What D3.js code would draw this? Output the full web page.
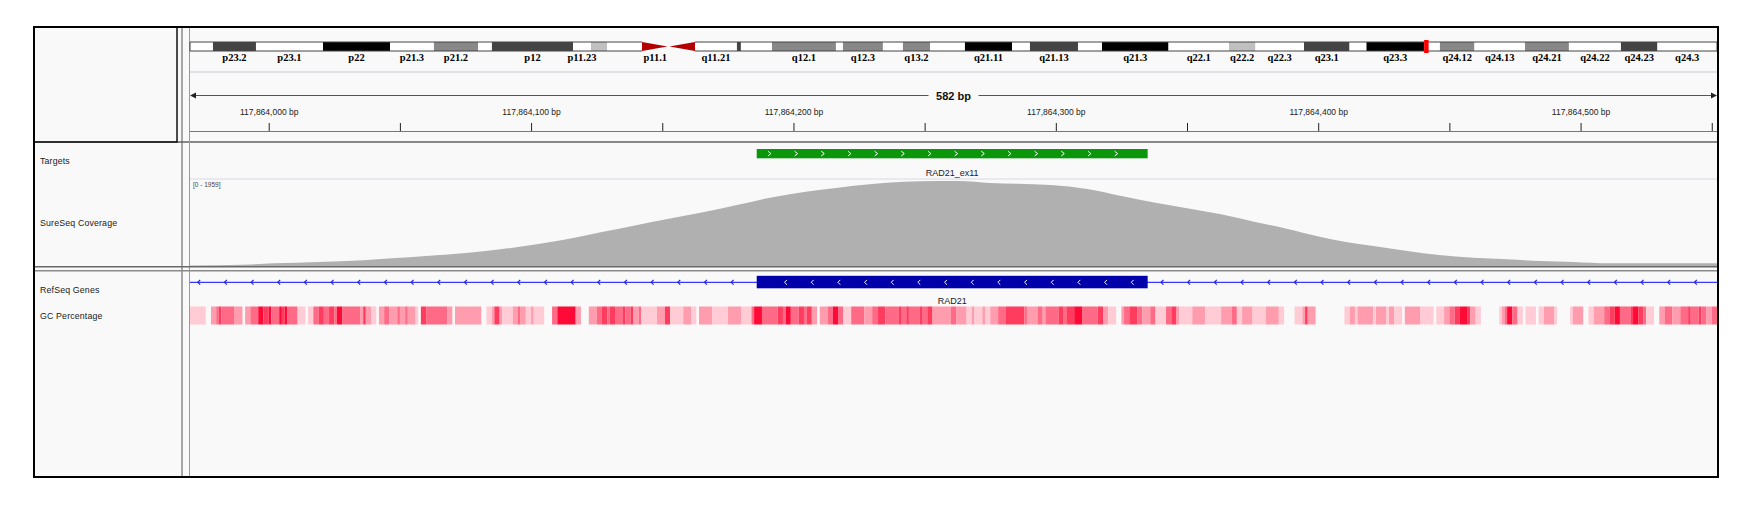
<!DOCTYPE html>
<head>
    <meta charset="utf-8">
    <script src="https://d3js.org/d3.v7.min.js"></script>
    <style>
        body { margin: 0; background: #fff; }
        text { font-family: "Liberation Sans", Arial, sans-serif; }
    </style>
</head>

<body>
    <svg width="1752" height="510"></svg>

    <script>
        // ---- view ----
        const viewStart = 117863970
        const viewEnd = 117864552
        const chromLengthMb = 145.6
        const currentMb = 117.864

        // ---- chr8 ideogram (Mb) ----
        const bandNames = ["p23.3", "p23.2", "p23.1", "p22", "p21.3", "p21.2", "p21.1", "p12", "p11.23", "p11.22",
            "p11.21", "p11.1", "q11.1", "q11.21", "q11.22", "q11.23", "q12.1", "q12.2", "q12.3", "q13.1",
            "q13.2", "q13.3", "q21.11", "q21.12", "q21.13", "q21.2", "q21.3", "q22.1", "q22.2", "q22.3",
            "q23.1", "q23.2", "q23.3", "q24.11", "q24.12", "q24.13", "q24.21", "q24.22", "q24.23", "q24.3"]
        const bandStart = [0, 2.19, 6.29, 12.68, 19.07, 23.26, 27.46, 28.79, 36.52, 38.23,
            39.76, 43.10, 45.62, 48.15, 52.15, 52.53, 55.49, 61.59, 62.26, 66.07,
            67.98, 70.56, 73.89, 78.38, 80.09, 84.67, 86.96, 93.30, 99.07, 101.59,
            106.22, 110.56, 112.18, 117.66, 119.18, 122.47, 127.29, 131.48, 136.44, 139.92]
        const bandEnd = [2.19, 6.29, 12.68, 19.07, 23.26, 27.46, 28.79, 36.52, 38.23, 39.76,
            43.10, 45.62, 48.15, 52.15, 52.53, 55.49, 61.59, 62.26, 66.07, 67.98,
            70.56, 73.89, 78.38, 80.09, 84.67, 86.96, 93.30, 99.07, 101.59, 106.22,
            110.56, 112.18, 117.66, 119.18, 122.47, 127.29, 131.48, 136.44, 139.92, 145.6]
        const bandStain = ["gneg", "gpos75", "gneg", "gpos100", "gneg", "gpos50", "gneg", "gpos75", "gneg", "gpos25",
            "gneg", "acen", "acen", "gneg", "gpos75", "gneg", "gpos50", "gneg", "gpos50", "gneg",
            "gpos50", "gneg", "gpos100", "gneg", "gpos75", "gneg", "gpos100", "gneg", "gpos25", "gneg",
            "gpos75", "gneg", "gpos100", "gneg", "gpos50", "gneg", "gpos50", "gneg", "gpos75", "gneg"]
        const shownLabels = ["p23.2", "p23.1", "p22", "p21.3", "p21.2", "p12", "p11.23", "p11.1", "q11.21",
            "q12.1", "q12.3", "q13.2", "q21.11", "q21.13", "q21.3", "q22.1", "q22.2", "q22.3", "q23.1",
            "q23.3", "q24.12", "q24.13", "q24.21", "q24.22", "q24.23", "q24.3"]

        // ---- ruler ----
        const tickValues = [117864000, 117864050, 117864100, 117864150, 117864200, 117864250,
            117864300, 117864350, 117864400, 117864450, 117864500, 117864550]
        const labelEvery = 100

        // ---- features ----
        const targetName = "RAD21_ex11"
        const targetStart = 117864186, targetEnd = 117864335
        const geneName = "RAD21"
        const exonStart = 117864186, exonEnd = 117864335

        // ---- coverage (offset from viewStart, depth) ----
        const covMax = 1959
        const covOffsets = [0, 20, 32, 49, 66, 77, 90, 104, 116, 125, 134, 142, 147, 157, 170, 183, 196, 208, 221, 234,
            247, 259, 272, 285, 293, 305, 328, 342, 355, 368, 380, 393, 406, 418, 431, 440, 451, 464, 476, 489,
            502, 515, 527, 541, 582]
        const covValues = [9, 29, 61, 91, 129, 174, 226, 290, 360, 430, 510, 590, 645, 770, 925, 1075, 1223, 1375, 1547, 1676,
            1773, 1850, 1909, 1925, 1925, 1880, 1835, 1744, 1586, 1434, 1307, 1171, 997, 845, 657, 550, 453, 340, 249, 188,
            152, 113, 91, 61, 61]

        // ---- GC percentage: [start offset, end offset, gc %] ----
        const gcBins = [
            [0, 6, 40], [8, 10, 50], [10, 11, 60], [11, 12, 70], [12, 17, 60], [17, 20, 50],
            [21, 23, 50], [23, 26, 60], [26, 28, 80], [28, 30, 70], [30, 31, 80], [31, 34, 60], [34, 35, 80], [35, 36, 70], [36, 37, 80], [37, 41, 60], [41, 44, 40],
            [45, 47, 40], [47, 49, 60], [49, 51, 70], [51, 53, 60], [53, 55, 70], [55, 56, 60], [56, 58, 80], [58, 65, 60], [65, 66, 50], [66, 67, 70], [67, 69, 50], [69, 71, 40],
            [72, 74, 50], [74, 76, 60], [76, 79, 50], [79, 80, 60], [80, 82, 50], [82, 83, 60], [83, 86, 50], [86, 87, 40],
            [88, 90, 70], [90, 98, 60], [98, 100, 50], [101, 111, 50],
            [113, 115, 40], [115, 116, 50], [116, 118, 70], [118, 119, 50], [119, 123, 40], [123, 125, 50], [125, 126, 60], [126, 128, 50], [128, 130, 40], [130, 131, 50], [131, 135, 40],
            [138, 140, 60], [140, 147, 80], [147, 149, 50],
            [152, 155, 50], [155, 157, 60], [157, 159, 70], [159, 160, 60], [160, 162, 70], [162, 165, 60], [165, 166, 70], [166, 168, 60], [168, 169, 70], [169, 171, 50], [171, 172, 60], [172, 178, 40], [178, 181, 50], [181, 183, 70], [183, 188, 40], [188, 191, 50], [191, 193, 40],
            [194, 199, 50], [199, 205, 40], [205, 210, 50], [210, 214, 40], [214, 215, 60], [215, 218, 80], [218, 224, 60], [224, 226, 70], [226, 227, 60], [227, 229, 80], [229, 232, 60], [232, 234, 70], [234, 235, 60], [235, 237, 70], [237, 239, 50],
            [240, 243, 50], [243, 245, 60], [245, 247, 80], [247, 249, 60], [249, 252, 40], [252, 257, 60], [257, 260, 50], [260, 262, 60], [262, 265, 70], [265, 270, 60], [270, 271, 70], [271, 273, 60], [273, 274, 70], [274, 278, 60], [278, 279, 70], [279, 281, 60], [281, 283, 70], [283, 290, 50], [290, 292, 60],
            [292, 296, 50], [296, 298, 40], [298, 299, 50], [299, 302, 40], [302, 303, 50], [303, 305, 40], [305, 308, 50], [308, 311, 60], [311, 318, 70], [318, 319, 60], [319, 323, 50], [323, 325, 60], [325, 326, 50], [326, 331, 60], [331, 333, 70], [333, 334, 60], [334, 337, 70], [337, 340, 80], [340, 346, 60], [346, 348, 70], [348, 350, 50], [350, 353, 40],
            [355, 356, 50], [356, 358, 60], [358, 361, 70], [361, 363, 60], [363, 366, 50], [366, 368, 60], [368, 372, 40], [372, 374, 60], [374, 376, 70], [376, 377, 50], [377, 382, 40], [382, 387, 50], [387, 393, 40], [393, 397, 50], [397, 399, 60], [399, 401, 40], [401, 405, 50], [405, 410, 40], [410, 415, 50], [415, 417, 40],
            [421, 424, 40], [424, 425, 50], [425, 426, 70], [426, 429, 50],
            [440, 442, 40], [442, 444, 50], [444, 445, 40], [445, 451, 50], [451, 452, 40], [452, 456, 50], [456, 457, 40], [457, 459, 50], [459, 462, 40],
            [463, 469, 50], [469, 474, 40],
            [475, 478, 40], [478, 480, 50], [480, 482, 60], [482, 484, 70], [484, 487, 80], [487, 488, 70], [488, 490, 50], [490, 492, 40],
            [499, 500, 40], [500, 501, 50], [501, 502, 60], [502, 504, 80], [504, 506, 60], [506, 508, 40],
            [509, 513, 40], [514, 516, 40], [516, 520, 50], [520, 521, 40],
            [526, 527, 40], [527, 531, 50],
            [533, 535, 40], [535, 539, 50], [539, 541, 60], [541, 543, 70], [543, 545, 80], [545, 549, 60], [549, 550, 70], [550, 552, 80], [552, 554, 70], [554, 555, 60], [555, 558, 40],
            [560, 562, 50], [562, 565, 60], [565, 568, 50], [568, 571, 60], [571, 572, 70], [572, 575, 60], [575, 576, 70], [576, 578, 60], [578, 580, 50], [580, 582, 60]
        ]

        const trackNames = ["Targets", "SureSeq Coverage", "RefSeq Genes", "GC Percentage"]
        const trackNameY = [164, 226, 293, 319]

        // ---- layout ----
        const L = 34, T = 27, R = 1718, B = 477
        const dataL = 190, dataR = 1717
        const svg = d3.select("svg")

        const x = d3.scaleLinear().domain([viewStart, viewEnd]).range([dataL, dataR])
        const xMb = d3.scaleLinear().domain([0, chromLengthMb]).range([dataL, dataR])
        const yCov = d3.scaleLinear().domain([0, covMax]).range([266, 179.5])
        const gcColor = d3.scaleLinear().domain([40, 80]).range(["#ffccd6", "#ff0a36"]).clamp(true)
        const stainColor = { gneg: "#ffffff", gpos25: "#c0c0c0", gpos50: "#888888", gpos75: "#444444", gpos100: "#000000" }

        // frame and panels
        svg.append("rect").attr("x", L).attr("y", T).attr("width", R - L).attr("height", B - T)
            .attr("fill", "#f9f9f9")
        svg.append("line").attr("x1", L).attr("x2", R).attr("y1", 142).attr("y2", 142)
            .attr("stroke", "#888").attr("stroke-width", 2)
        svg.append("rect").attr("x", L).attr("y", T).attr("width", 177 - L).attr("height", 142 - T)
            .attr("fill", "none").attr("stroke", "#111").attr("stroke-width", 1.5)
        svg.append("line").attr("x1", 182).attr("x2", 182).attr("y1", T).attr("y2", B)
            .attr("stroke", "#555").attr("stroke-width", 1)
        svg.append("line").attr("x1", 189.5).attr("x2", 189.5).attr("y1", T).attr("y2", B)
            .attr("stroke", "#999").attr("stroke-width", 1)
        svg.append("line").attr("x1", L).attr("x2", R).attr("y1", 266.8).attr("y2", 266.8)
            .attr("stroke", "#6a6a6a").attr("stroke-width", 1.5)
        svg.append("line").attr("x1", L).attr("x2", R).attr("y1", 270.8).attr("y2", 270.8)
            .attr("stroke", "#8a8a8a").attr("stroke-width", 1.5)

        // ---- ideogram ----
        const bands = bandNames.map((n, i) => ({ name: n, s: bandStart[i], e: bandEnd[i], stain: bandStain[i] }))
        const ideoTop = 42, ideoH = 9
        const ideo = svg.append("g")
        ideo.selectAll("rect.band")
            .data(bands.filter(d => d.stain != "acen"))
            .enter()
            .append("rect")
            .attr("x", d => xMb(d.s))
            .attr("y", ideoTop)
            .attr("width", d => xMb(d.e) - xMb(d.s))
            .attr("height", ideoH)
            .attr("fill", d => stainColor[d.stain])
        ideo.selectAll("path.acen")
            .data(bands.filter(d => d.stain == "acen"))
            .enter()
            .append("path")
            .attr("fill", "#b40000")
            .attr("d", d => {
                const a = xMb(d.s), b = xMb(d.e), m = ideoTop + ideoH / 2
                return d.name[0] == "p"
                    ? `M${a},${ideoTop}L${b - 1},${m}L${a},${ideoTop + ideoH}Z`
                    : `M${b},${ideoTop}L${a + 1},${m}L${b},${ideoTop + ideoH}Z`
            })
        const pEnd = bands.find(d => d.name == "p11.1").s
        const qStart = bands.find(d => d.name == "q11.1").e
        ideo.append("path")
            .attr("fill", "none").attr("stroke", "#444").attr("stroke-width", 1)
            .attr("d", `M${xMb(pEnd)},${ideoTop}H${xMb(0)}V${ideoTop + ideoH}H${xMb(pEnd)}` +
                `M${xMb(qStart)},${ideoTop}H${xMb(chromLengthMb)}V${ideoTop + ideoH}H${xMb(qStart)}`)
        ideo.append("rect")
            .attr("x", xMb(currentMb) - 2).attr("y", ideoTop - 2)
            .attr("width", 4.5).attr("height", ideoH + 4)
            .attr("fill", "#ff0000")
        ideo.selectAll("text.band")
            .data(bands.filter(d => shownLabels.includes(d.name)))
            .enter()
            .append("text")
            .attr("x", d => (xMb(d.s) + xMb(d.e)) / 2)
            .attr("y", 60.5)
            .attr("text-anchor", "middle")
            .style("font-family", "'Liberation Serif', 'DejaVu Serif', serif")
            .style("font-weight", "bold")
            .style("font-size", "10.5px")
            .text(d => d.name)

        svg.append("line").attr("x1", dataL).attr("x2", dataR).attr("y1", 72).attr("y2", 72)
            .attr("stroke", "#e0e0e8").attr("stroke-width", 2)

        // ---- ruler ----
        const rulerY = 95.5
        svg.append("line").attr("x1", dataL + 2).attr("x2", dataR - 2).attr("y1", rulerY).attr("y2", rulerY)
            .attr("stroke", "#555").attr("stroke-width", 1)
        svg.append("path").attr("fill", "#222")
            .attr("d", `M${dataL},${rulerY}l6,-3v6Z M${dataR},${rulerY}l-6,-3v6Z`)
        const spanText = (viewEnd - viewStart) + " bp"
        svg.append("rect").attr("x", x((viewStart + viewEnd) / 2) - 25).attr("y", rulerY - 7)
            .attr("width", 50).attr("height", 14).attr("fill", "#f9f9f9")
        svg.append("text")
            .attr("x", x((viewStart + viewEnd) / 2)).attr("y", rulerY + 4)
            .attr("text-anchor", "middle")
            .style("font-weight", "bold").style("font-size", "11px").attr("fill", "#111")
            .text(spanText)

        const axis = d3.axisBottom(x)
            .tickValues(tickValues)
            .tickSize(8)
            .tickFormat(d => d % labelEvery == 0 ? d3.format(",")(d) + " bp" : "")
        const gAxis = svg.append("g").attr("transform", "translate(0,123)").call(axis)
        gAxis.select(".domain").remove()
        gAxis.selectAll(".tick line").attr("stroke", "#222")
        gAxis.selectAll(".tick text")
            .attr("y", -8).attr("dy", 0)
            .style("font-family", "'Liberation Sans', Arial, sans-serif")
            .style("font-size", "8.5px").attr("fill", "#222")
        svg.append("line").attr("x1", dataL).attr("x2", dataR).attr("y1", 131.5).attr("y2", 131.5)
            .attr("stroke", "#777").attr("stroke-width", 1)

        // ---- track names ----
        svg.selectAll("text.tname")
            .data(trackNames)
            .enter()
            .append("text")
            .attr("x", 40)
            .attr("y", (d, i) => trackNameY[i])
            .style("font-size", "8.8px")
            .style("letter-spacing", "0.15px")
            .attr("fill", "#222")
            .text(d => d)

        // ---- targets ----
        const chevStep = 26.67
        svg.append("rect")
            .attr("x", x(targetStart)).attr("y", 149)
            .attr("width", x(targetEnd) - x(targetStart)).attr("height", 9.3)
            .attr("fill", "#0b960b")
        const tChev = d3.range(x(targetStart) + 12.7, x(targetEnd) - 5, chevStep)
        svg.append("g").selectAll("path")
            .data(tChev).enter().append("path")
            .attr("d", d => `M${d - 1.5},151.2L${d + 1.5},153.6L${d - 1.5},156`)
            .attr("fill", "none").attr("stroke", "#fff").attr("stroke-width", 1)
        svg.append("text")
            .attr("x", (x(targetStart) + x(targetEnd)) / 2).attr("y", 175.5)
            .attr("text-anchor", "middle").style("font-size", "9px").attr("fill", "#222")
            .text(targetName)

        // ---- coverage ----
        svg.append("line").attr("x1", dataL).attr("x2", dataR).attr("y1", 179).attr("y2", 179)
            .attr("stroke", "#d8d8e4").attr("stroke-width", 1)
        const cov = covOffsets.map((o, i) => ({ pos: viewStart + o, v: covValues[i] }))
        const area = d3.area()
            .x(d => x(d.pos))
            .y0(yCov(0))
            .y1(d => yCov(d.v))
            .curve(d3.curveMonotoneX)
        svg.append("path").datum(cov).attr("d", area).attr("fill", "#b0b0b0")
        svg.append("text").attr("x", 193).attr("y", 187)
            .style("font-size", "6.5px").attr("fill", "#444")
            .text(`[0 - ${covMax}]`)

        // ---- RefSeq gene ----
        const geneY = 282.3
        svg.append("line").attr("x1", dataL).attr("x2", dataR).attr("y1", geneY).attr("y2", geneY)
            .attr("stroke", "#3a3aff").attr("stroke-width", 1.2)
        const leftArrows = d3.range(dataL + 9, x(exonStart) - 6, chevStep)
        const rightArrows = d3.range(x(exonEnd) + 14.6, dataR - 2, chevStep)
        svg.append("g").selectAll("path")
            .data(leftArrows.concat(rightArrows)).enter().append("path")
            .attr("d", d => `M${d + 1.2},${geneY - 2.4}L${d - 1.2},${geneY}L${d + 1.2},${geneY + 2.4}`)
            .attr("fill", "none").attr("stroke", "#2020ee").attr("stroke-width", 1.2)
        svg.append("rect")
            .attr("x", x(exonStart)).attr("y", 275.8)
            .attr("width", x(exonEnd) - x(exonStart)).attr("height", 12.5)
            .attr("fill", "#0000aa")
        const eChev = d3.range(dataL + 9 + chevStep * Math.ceil((x(exonStart) + 20 - dataL - 9) / chevStep), x(exonEnd) - 10, chevStep)
        svg.append("g").selectAll("path")
            .data(eChev).enter().append("path")
            .attr("d", d => `M${d + 1.2},${geneY - 2.4}L${d - 1.2},${geneY}L${d + 1.2},${geneY + 2.4}`)
            .attr("fill", "none").attr("stroke", "#fff").attr("stroke-width", 1)
        svg.append("text")
            .attr("x", (x(exonStart) + x(exonEnd)) / 2).attr("y", 304)
            .attr("text-anchor", "middle").style("font-size", "9px").attr("fill", "#222")
            .text(geneName)

        // ---- GC percentage ----
        svg.append("g").selectAll("rect")
            .data(gcBins).enter().append("rect")
            .attr("x", d => x(viewStart + d[0]))
            .attr("y", 306.5)
            .attr("width", d => x(viewStart + d[1]) - x(viewStart + d[0]))
            .attr("height", 18)
            .attr("fill", d => gcColor(d[2]))

        // outer border last
        svg.append("rect").attr("x", L).attr("y", T).attr("width", R - L).attr("height", B - T)
            .attr("fill", "none").attr("stroke", "#000").attr("stroke-width", 2)
    </script>
</body>
